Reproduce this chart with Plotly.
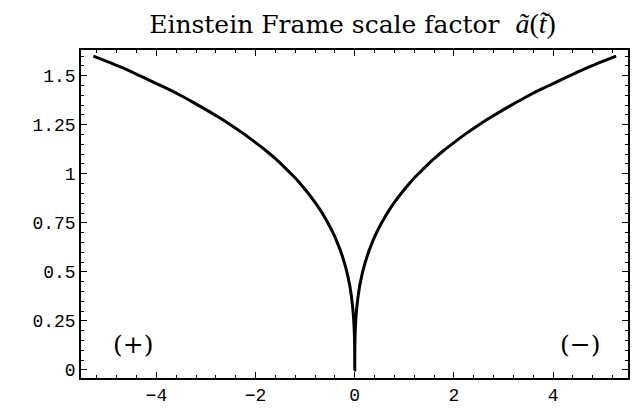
import plotly.graph_objects as go

# scale factor (curve is symmetric about t = 0)
t_right = [0.0, 0.0005, 0.001, 0.002, 0.004, 0.007, 0.01, 0.015, 0.02, 0.03, 0.04, 0.055,
           0.07, 0.085, 0.1, 0.125, 0.15, 0.175, 0.2, 0.25, 0.3, 0.35, 0.4, 0.45, 0.5,
           0.6, 0.7, 0.8, 0.9, 1.0, 1.15, 1.3, 1.45, 1.6, 1.8, 2.0, 2.25, 2.5, 2.75,
           3.0, 3.25, 3.5, 3.75, 4.0, 4.25, 4.5, 4.75, 5.0, 5.27]
a_right = [0.0, 0.073, 0.092, 0.116, 0.146, 0.176, 0.198, 0.227, 0.25, 0.286, 0.315, 0.35,
           0.38, 0.405, 0.43, 0.46, 0.49, 0.515, 0.538, 0.58, 0.616, 0.648, 0.678, 0.705, 0.73,
           0.776, 0.817, 0.854, 0.888, 0.92, 0.965, 1.004, 1.042, 1.077, 1.12, 1.159, 1.206, 1.249,
           1.289, 1.327, 1.363, 1.398, 1.43, 1.46, 1.49, 1.519, 1.547, 1.573, 1.60]

t_all = [-t for t in t_right[::-1]] + t_right[1:]
a_all = a_right[::-1] + a_right[1:]

x_ticks = [-4, -2, 0, 2, 4]
y_ticks = [0, 0.25, 0.5, 0.75, 1, 1.25, 1.5]
y_labels = ['0', '0.25', '0.5', '0.75', '1', '1.25', '1.5']

fig = go.Figure()
fig.add_trace(go.Scatter(x=t_all, y=a_all, mode='lines',
                         line=dict(color='black', width=3, shape='spline', smoothing=0.6),
                         hoverinfo='skip'))

fig.add_annotation(x=-4.47, y=0.13, text='(+)', showarrow=False,
                   font=dict(family='DejaVu Serif', size=25, color='black'))
fig.add_annotation(x=4.54, y=0.13, text='(\u2212)', showarrow=False,
                   font=dict(family='DejaVu Serif', size=25, color='black'))

axis_style = dict(showline=True, linecolor='black', linewidth=1.5, mirror='allticks',
                  ticks='inside', ticklen=6, tickcolor='black', tickwidth=1,
                  showgrid=False, zeroline=False,
                  tickfont=dict(family='Liberation Mono', size=18, color='black'))

fig.update_xaxes(range=[-5.52, 5.51], tickvals=x_ticks,
                 minor=dict(ticks='inside', ticklen=3, dtick=0.4, tick0=0, tickcolor='black'),
                 **axis_style)
fig.update_yaxes(range=[-0.041, 1.631], tickvals=y_ticks, ticktext=y_labels,
                 minor=dict(ticks='inside', ticklen=3, dtick=0.05, tick0=0, tickcolor='black'),
                 **axis_style)

title_text = ('Einstein Frame scale factor&nbsp;&nbsp;'
              '<span style="font-family:Liberation Serif;font-size:28px">'
              '<i>ã</i>(<i>t̃</i>)</span>')

fig.update_layout(
    width=638, height=410,
    margin=dict(l=73, r=18, t=42, b=30),
    paper_bgcolor='white', plot_bgcolor='white',
    showlegend=False,
    title=dict(text=title_text, x=0.54, xanchor='center', y=0.982, yanchor='top',
               font=dict(family='DejaVu Serif', size=25, color='black')),
)

fig.write_html("out.html")
